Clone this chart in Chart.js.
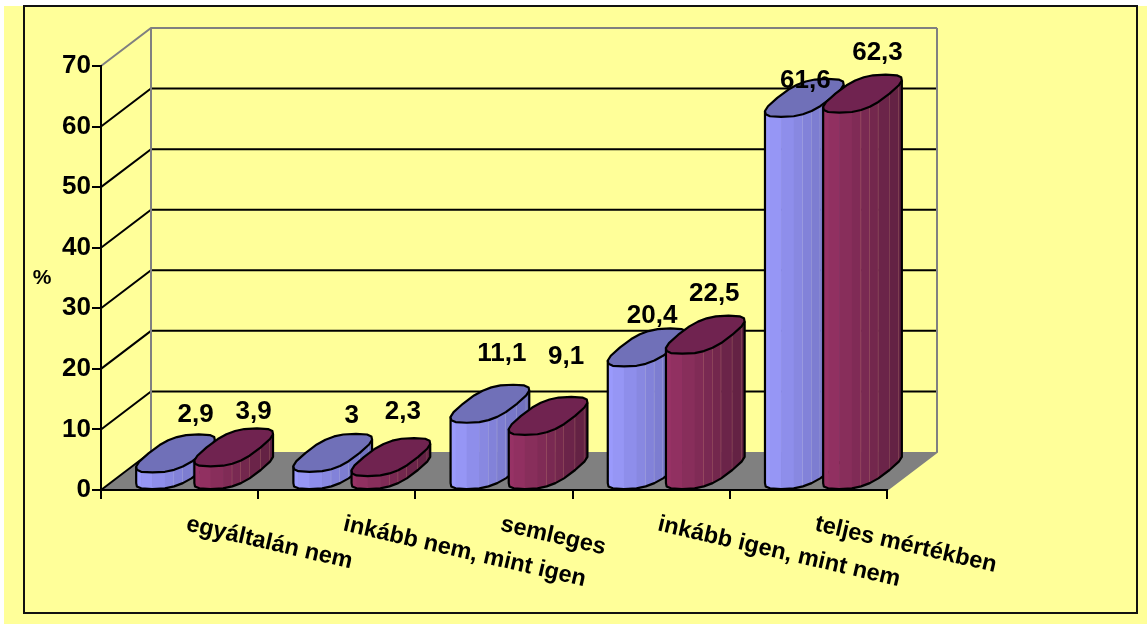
<!DOCTYPE html>
<html><head><meta charset="utf-8">
<script src="https://cdn.jsdelivr.net/npm/chart.js@4/dist/chart.umd.min.js"></script>
<style>
html,body{margin:0;padding:0;background:#fff;overflow:hidden}
canvas{display:block}
</style></head><body>
<canvas id="c" width="1147" height="624"></canvas>
<script>
const categories = ["egyáltalán nem","inkább nem, mint igen","semleges","inkább igen, mint nem","teljes mértékben"];
const seriesA = [2.9,3,11.1,20.4,61.6];
const seriesB = [3.9,2.3,9.1,22.5,62.3];
const yTicks = [0,10,20,30,40,50,60,70];
// hand-placed label nudges, as in the original chart
const labelNudgeA = [[45,-58],[44,-56],[37,-69],[30,-51],[26,-36]];
const labelNudgeB = [[45,-55],[37,-64],[43,-78],[34,-60],[40,-60]];
const DEPTH_X = 50, DEPTH_Y = 38;
const FONT_NUM = 'bold 26px "Liberation Sans", Arial, sans-serif';
const FONT_CAT = 'bold 23.5px "Liberation Sans", Arial, sans-serif';

function mix(a,b,t){return a.map((v,i)=>Math.round(v+(b[i]-v)*t));}
function rgb(c){return `rgb(${c[0]},${c[1]},${c[2]})`;}
function sp(v){return Math.sign(v)*Math.pow(Math.abs(v),0.7);}

function ring(cx,cy,hw,N){
  const pts=[];
  for(let i=0;i<N;i++){
    const t=2*Math.PI*i/N;
    const c=sp(Math.cos(t)),s=sp(Math.sin(t));
    pts.push({x:cx+0.93*(hw*c+DEPTH_X/2*s), y:cy-DEPTH_Y/2*s});
  }
  return pts;
}

function drawCylinder(ctx,el,st){
  const hw=el.width/2, cx=el.x+DEPTH_X/2, cyTop=el.y-DEPTH_Y/2, cyBase=el.base-DEPTH_Y/2;
  const N=20;
  const top=ring(cx,cyTop,hw,N);
  let iL=0,iR=0;
  top.forEach((p,i)=>{if(p.x<top[iL].x)iL=i;if(p.x>top[iR].x)iR=i;});
  const h=cyBase-cyTop;
  const front=[];
  for(let k=iL;;k=(k+1)%N){front.push(top[k]);if(k===iR)break;}
  const xL=front[0].x,xR=front[front.length-1].x;
  for(let i=0;i<front.length-1;i++){
    const a=front[i],b=front[i+1];
    const m=((a.x+b.x)/2-xL)/(xR-xL);
    ctx.fillStyle=rgb(mix(st.light,st.dark,m));
    ctx.beginPath();
    ctx.moveTo(a.x,a.y);ctx.lineTo(b.x+.5,b.y);ctx.lineTo(b.x+.5,b.y+h);ctx.lineTo(a.x,a.y+h);
    ctx.closePath();ctx.fill();
    if(m>.35&&i<front.length-2){
      ctx.strokeStyle=st.seam;ctx.lineWidth=1;
      ctx.beginPath();ctx.moveTo(b.x,b.y);ctx.lineTo(b.x,b.y+h);ctx.stroke();
    }
  }
  ctx.lineJoin='round';ctx.strokeStyle='#000';ctx.lineWidth=2.2;
  ctx.beginPath();
  ctx.moveTo(front[0].x,front[0].y);
  front.forEach(p=>ctx.lineTo(p.x,p.y+h));
  ctx.lineTo(xR,front[front.length-1].y);
  ctx.stroke();
  ctx.fillStyle=st.top;
  ctx.beginPath();
  top.forEach((p,i)=>i?ctx.lineTo(p.x,p.y):ctx.moveTo(p.x,p.y));
  ctx.closePath();ctx.fill();ctx.stroke();
}

const stage3d={
  id:'stage3d',
  beforeDraw(chart){
    const ctx=chart.ctx,{x,y}=chart.scales;
    ctx.save();
    ctx.fillStyle='#fff';ctx.fillRect(0,0,1147,624);
    ctx.fillStyle='#FFFF99';ctx.fillRect(4,6,1143,618);
    ctx.strokeStyle='#111';ctx.lineWidth=2;ctx.strokeRect(24,6,1113,607);
    const L=x.left,R=x.right,y0=y.getPixelForValue(0);
    ctx.fillStyle='#808080';
    ctx.beginPath();ctx.moveTo(L,y0);ctx.lineTo(L+DEPTH_X,y0-DEPTH_Y);ctx.lineTo(R+DEPTH_X,y0-DEPTH_Y);ctx.lineTo(R,y0);ctx.closePath();ctx.fill();
    yTicks.forEach(v=>{
      const p=y.getPixelForValue(v),last=v===yTicks[yTicks.length-1];
      ctx.strokeStyle=last?'#808080':'#000';ctx.lineWidth=2;
      ctx.beginPath();ctx.moveTo(L,p);ctx.lineTo(L+DEPTH_X,p-DEPTH_Y);
      if(v>0)ctx.lineTo(R+DEPTH_X,p-DEPTH_Y);
      ctx.stroke();
    });
    ctx.strokeStyle='#808080';ctx.lineWidth=2;
    const yT=y.getPixelForValue(70)-DEPTH_Y,yB=y0-DEPTH_Y;
    ctx.beginPath();ctx.moveTo(L+DEPTH_X,yB);ctx.lineTo(L+DEPTH_X,yT);
    ctx.moveTo(R+DEPTH_X,yT);ctx.lineTo(R+DEPTH_X,yB);ctx.lineTo(R,y0);ctx.stroke();
    ctx.restore();
  },
  beforeDatasetsDraw(chart){
    const ctx=chart.ctx;
    ctx.save();
    categories.forEach((_,i)=>{
      chart.data.datasets.forEach((ds,d)=>{
        drawCylinder(ctx,chart.getDatasetMeta(d).data[i],ds.cyl);
      });
    });
    ctx.restore();
  },
  beforeDatasetDraw(){return false;},
  afterDatasetsDraw(chart){
    const ctx=chart.ctx,{x}=chart.scales;
    ctx.save();
    ctx.font=FONT_NUM;ctx.fillStyle='#000';ctx.textAlign='center';ctx.textBaseline='middle';
    chart.data.datasets.forEach((ds,d)=>{
      chart.getDatasetMeta(d).data.forEach((el,i)=>{
        const n=ds.nudge[i];
        ctx.fillText(String(ds.data[i]).replace('.',','),el.x+n[0],el.y+n[1]);
      });
    });
    ctx.font=FONT_CAT;ctx.textAlign='left';ctx.textBaseline='middle';
    categories.forEach((c,i)=>{
      ctx.save();
      ctx.translate(x.getPixelForValue(i)+7,524);
      ctx.rotate(13*Math.PI/180);
      ctx.fillText(c,0,0);
      ctx.restore();
    });
    ctx.font='bold 21px "Liberation Sans", Arial, sans-serif';ctx.textAlign='center';
    ctx.fillText('%',42,278);
    ctx.restore();
  }
};

Chart.defaults.font.family='"Liberation Sans", Arial, sans-serif';
new Chart(document.getElementById('c'),{
  type:'bar',
  data:{labels:categories,datasets:[
    {label:'A',data:seriesA,backgroundColor:'#9999FF',nudge:labelNudgeA,
     cyl:{light:[156,156,255],dark:[108,108,184],top:'#7070B8',seam:'rgba(215,215,215,.4)'}},
    {label:'B',data:seriesB,backgroundColor:'#993366',nudge:labelNudgeB,
     cyl:{light:[153,51,102],dark:[94,32,64],top:'#702350',seam:'rgba(220,170,130,.4)'}}
  ]},
  options:{
    responsive:false,animation:false,
    layout:{padding:{left:0,top:66,right:260,bottom:0}},
    categoryPercentage:.74,barPercentage:1,
    plugins:{legend:{display:false},tooltip:{enabled:false},title:{display:false}},
    scales:{
      x:{
        grid:{offset:true,drawOnChartArea:false,tickLength:9,color:'#000',lineWidth:2},
        border:{color:'#000',width:2},
        ticks:{display:false},
        afterFit(a){a.height=134;}
      },
      y:{
        min:0,max:70,
        grid:{drawOnChartArea:false,tickLength:9,color:'#000',lineWidth:2},
        border:{color:'#000',width:2},
        ticks:{stepSize:10,color:'#000',padding:1,font:{size:26,weight:'bold'}},
        afterFit(a){a.width=101;}
      }
    }
  },
  plugins:[stage3d]
});
</script>
</body></html>
